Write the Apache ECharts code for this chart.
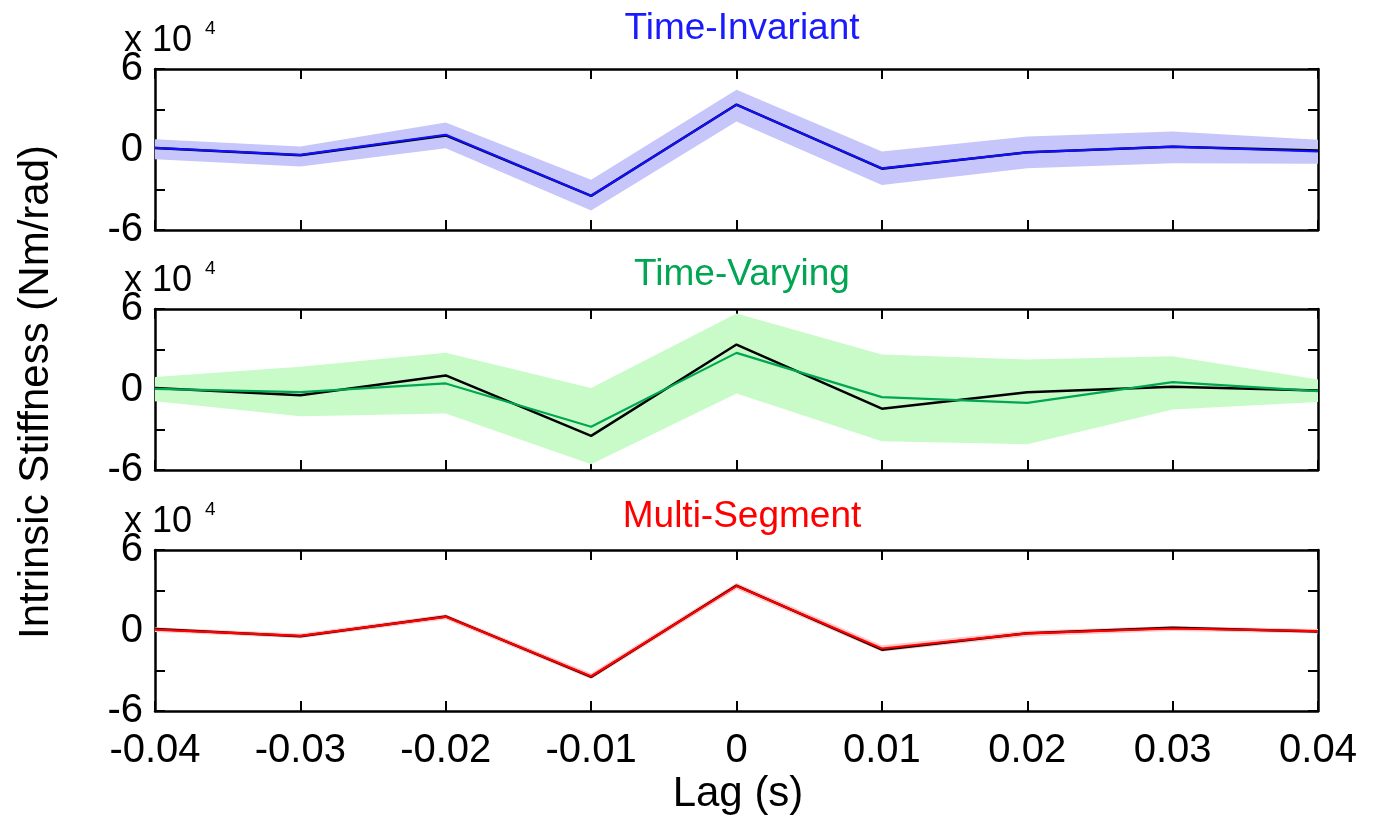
<!DOCTYPE html>
<html><head><meta charset="utf-8">
<script src="https://cdn.jsdelivr.net/npm/echarts@6/dist/echarts.min.js"></script>
<style>html,body{margin:0;padding:0;background:#fff}#c{width:1378px;height:821px}</style>
</head><body><div id="c"></div>
<script>
// ---- data (values in units of 1e4 Nm/rad) ----
const lags = ['-0.04','-0.03','-0.02','-0.01','0','0.01','0.02','0.03','0.04'];
const trueStiffness = [0.12,-0.43,1.05,-3.46,3.35,-1.43,-0.2,0.2,-0.08];
const tiMean  = [0.12,-0.40,1.10,-3.45,3.33,-1.40,-0.22,0.22,-0.15];
const tiUpper = [0.77,0.22,2.01,-2.26,4.45,-0.15,0.97,1.34,0.72];
const tiLower = [-0.72,-1.27,0.10,-4.55,2.09,-2.64,-1.39,-1.02,-1.07];
const tvMean  = [0.05,-0.20,0.45,-2.78,2.73,-0.57,-1.00,0.55,-0.12];
const tvUpper = [0.94,1.69,2.73,0.12,5.66,2.61,2.23,2.48,0.74];
const tvLower = [-0.87,-1.99,-1.79,-5.58,-0.30,-3.85,-4.09,-1.49,-0.94];
const msMean  = [0.07,-0.40,1.02,-3.41,3.31,-1.34,-0.22,0.15,-0.05];
const msUpper = [0.25,-0.22,1.22,-3.18,3.55,-1.10,0.00,0.33,0.12];
const msLower = [-0.11,-0.58,0.82,-3.64,3.07,-1.58,-0.44,-0.03,-0.22];
const yLabelValues = [-6, 0, 6];
const titles = ['Time-Invariant','Time-Varying','Multi-Segment'];

const FONT = '"Liberation Sans",Arial,sans-serif';
const FS = 40;
const panels = [
  {top:69,  titleTop:5,   mean:tiMean, up:tiUpper, lo:tiLower, line:'#1010ff', band:'#c6c6fb', title:'#1a1aff'},
  {top:309, titleTop:251, mean:tvMean, up:tvUpper, lo:tvLower, line:'#00a651', band:'#c9fbc9', title:'#00a651'},
  {top:550, titleTop:493, mean:msMean, up:msUpper, lo:msLower, line:'#ff0000', band:'#ffc9c9', title:'#ff0000'}
];
const H = 161, L = 155, R = 60;

const grid=[], xAxis=[], yAxis=[], series=[], title=[], graphic=[];
const axLine = {show:true, onZero:false, lineStyle:{color:'#000', width:2.5}};
const tick = {show:true, inside:true, length:10, lineStyle:{color:'#000', width:2}};
panels.forEach((p,i)=>{
  grid.push({left:L, right:R, top:p.top, height:H});
  xAxis.push({type:'category', data:lags, boundaryGap:false, gridIndex:i, position:'bottom',
    axisLine:axLine, axisTick:Object.assign({interval:0},tick), splitLine:{show:false},
    axisLabel:{show:i===2, interval:0, margin:20, fontSize:FS, fontFamily:FONT, color:'#000'}});
  xAxis.push({type:'category', data:lags, boundaryGap:false, gridIndex:i, position:'top',
    axisLine:axLine, axisTick:Object.assign({interval:0},tick), axisLabel:{show:false}, splitLine:{show:false}});
  yAxis.push({type:'value', min:-6, max:6, interval:3, gridIndex:i, position:'left',
    axisLine:axLine, axisTick:tick, splitLine:{show:false},
    axisLabel:{margin:12, fontSize:FS, fontFamily:FONT, color:'#000',
      formatter:v=> yLabelValues.includes(v) ? String(v) : ''}});
  yAxis.push({type:'value', min:-6, max:6, interval:3, gridIndex:i, position:'right',
    axisLine:axLine, axisTick:tick, axisLabel:{show:false}, splitLine:{show:false}});
  const xi = i*2, yi = i*2;
  series.push({type:'line', xAxisIndex:xi, yAxisIndex:yi, data:p.lo, stack:'band'+i, stackStrategy:'all',
    symbol:'none', lineStyle:{opacity:0}, silent:true, z:1});
  series.push({type:'line', xAxisIndex:xi, yAxisIndex:yi, data:p.up.map((u,k)=>u-p.lo[k]), stack:'band'+i, stackStrategy:'all',
    symbol:'none', lineStyle:{opacity:0}, areaStyle:{color:p.band, opacity:1}, silent:true, z:1});
  series.push({type:'line', xAxisIndex:xi, yAxisIndex:yi, data:trueStiffness, symbol:'none',
    lineStyle:{color:'#000', width:2.5}, z:2});
  series.push({type:'line', xAxisIndex:xi, yAxisIndex:yi, data:p.mean, symbol:'none',
    lineStyle:{color:p.line, width:2.2}, z:3});
  title.push({text:titles[i], left:737, textAlign:'center', top:p.titleTop,
    textStyle:{fontSize:37, fontFamily:FONT, fontWeight:'normal', color:p.title}});
  graphic.push({type:'text', x:124, y:p.top-28, style:{text:'x 10', fontSize:36, fontFamily:FONT, fill:'#000', align:'left', verticalAlign:'middle'}});
  graphic.push({type:'text', x:205, y:p.top-40, style:{text:'4', fontSize:19, fontFamily:FONT, fill:'#000', align:'left', verticalAlign:'middle'}});
});
graphic.push({type:'text', x:36, y:392, rotation:Math.PI/2,
  style:{text:'Intrinsic Stiffness (Nm/rad)', fontSize:42, fontFamily:FONT, fill:'#000', align:'center', verticalAlign:'middle'}});
graphic.push({type:'text', x:738, y:794,
  style:{text:'Lag (s)', fontSize:42, fontFamily:FONT, fill:'#000', align:'center', verticalAlign:'middle'}});

const chart = echarts.init(document.getElementById('c'));
chart.setOption({animation:false, backgroundColor:'#fff', title, grid, xAxis, yAxis, series, graphic});
</script></body></html>
